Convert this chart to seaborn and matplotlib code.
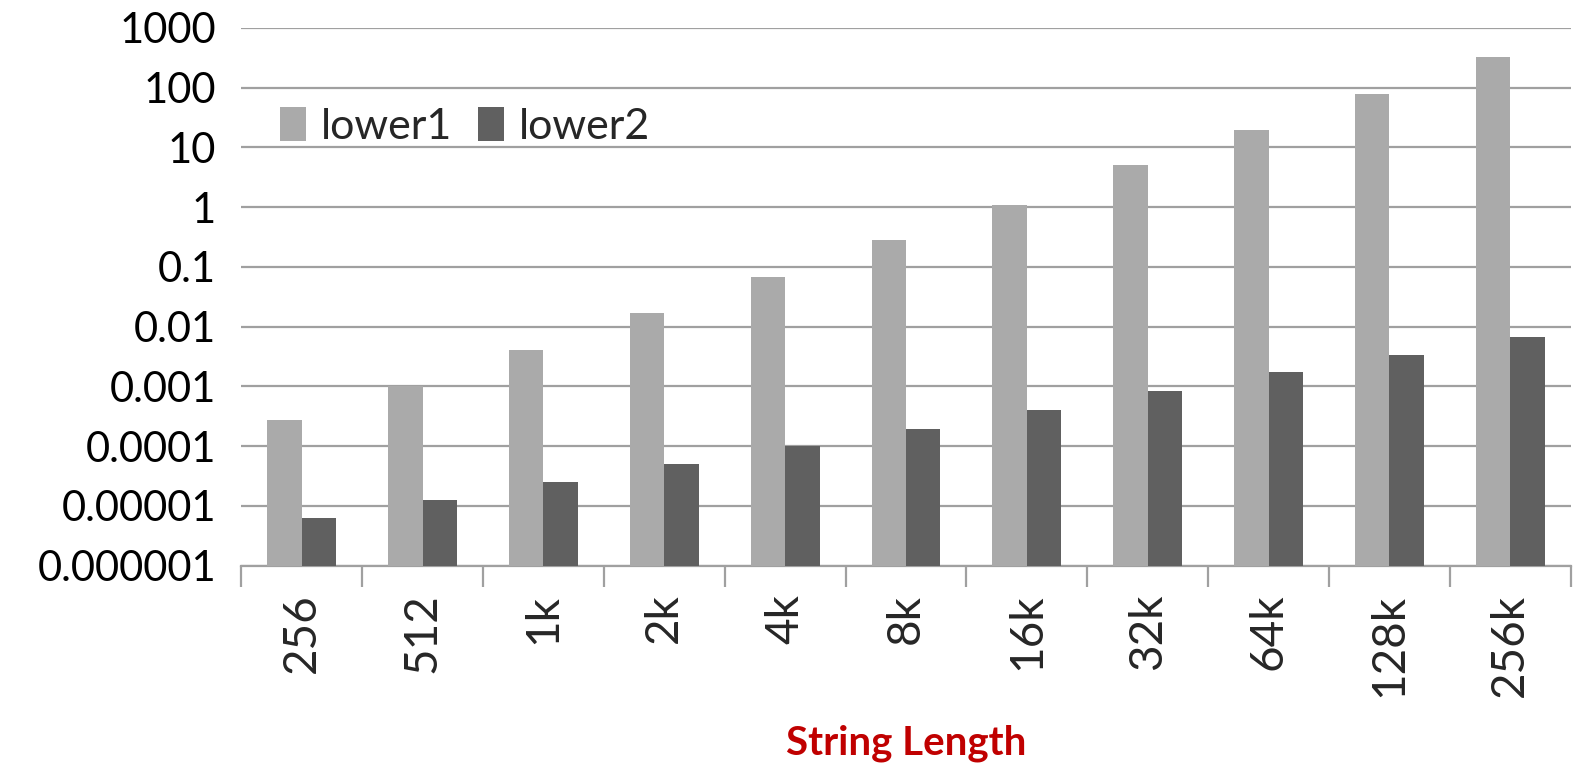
import numpy as np
import pandas as pd
import seaborn as sns
import matplotlib
matplotlib.use('Agg')
import matplotlib.pyplot as plt
from matplotlib.ticker import FixedLocator, FuncFormatter

# values (log scale)
lengths = ['256', '512', '1k', '2k', '4k', '8k', '16k', '32k', '64k', '128k', '256k']
lower1 = [2.8e-4, 1.0e-3, 4.1e-3, 0.017, 0.068, 0.28, 1.1, 5.0, 19.5, 78, 325]
lower2 = [6.3e-6, 1.25e-5, 2.5e-5, 5.1e-5, 1.0e-4, 1.95e-4, 4.0e-4, 8.3e-4, 1.75e-3, 3.4e-3, 6.8e-3]
series = ['lower1', 'lower2']
colors = ['#AAAAAA', '#606060']

df = pd.DataFrame({
    'length': lengths * 2,
    'time': lower1 + lower2,
    'series': [series[0]] * len(lengths) + [series[1]] * len(lengths),
})

sns.set_style('white')
plt.rcParams['font.family'] = ['Lato', 'DejaVu Sans']

fig = plt.figure(figsize=(15.77, 7.75), dpi=100)
ax = fig.add_axes([0.153, 0.27, 0.843, 0.694])

ax.set_yscale('log')
sns.barplot(data=df, x='length', y='time', hue='series', palette=colors,
            width=0.57, gap=0, saturation=1, edgecolor='none', linewidth=0,
            ax=ax, zorder=3)

ax.set_ylim(1e-6, 1000)
ax.set_xlim(-0.5, len(lengths) - 0.5)
ax.yaxis.set_major_locator(FixedLocator([10.0 ** k for k in range(-6, 4)]))
ax.yaxis.set_minor_locator(FixedLocator([]))
ax.yaxis.set_major_formatter(FuncFormatter(lambda v, p: np.format_float_positional(v, trim='-')))
ax.grid(axis='y', color='#A0A0A0', linewidth=1.6, zorder=0)
ax.set_axisbelow(True)

for s in ['top', 'right', 'left']:
    ax.spines[s].set_visible(False)
ax.spines['bottom'].set_color('#A0A0A0')
ax.spines['bottom'].set_linewidth(1.6)

ax.tick_params(axis='y', length=0, labelsize=30, pad=18, colors='black')
ax.tick_params(axis='x', which='major', length=0, labelsize=33, pad=20, labelrotation=90)
ax.xaxis.set_minor_locator(FixedLocator(np.arange(-0.5, len(lengths), 1.0)))
ax.tick_params(axis='x', which='minor', length=15, width=1.6, color='#A0A0A0', bottom=True)

ax.set_ylabel('')
ax.set_xlabel('String Length', fontsize=29, fontweight='bold', color='#C00000', labelpad=20)

ax.legend(loc='upper left', bbox_to_anchor=(0.0, 0.925), frameon=False, ncol=2,
          fontsize=31, handlelength=0.6, handleheight=0.85, handletextpad=0.35,
          columnspacing=0.6)

fig.savefig('out.png', dpi=100)
